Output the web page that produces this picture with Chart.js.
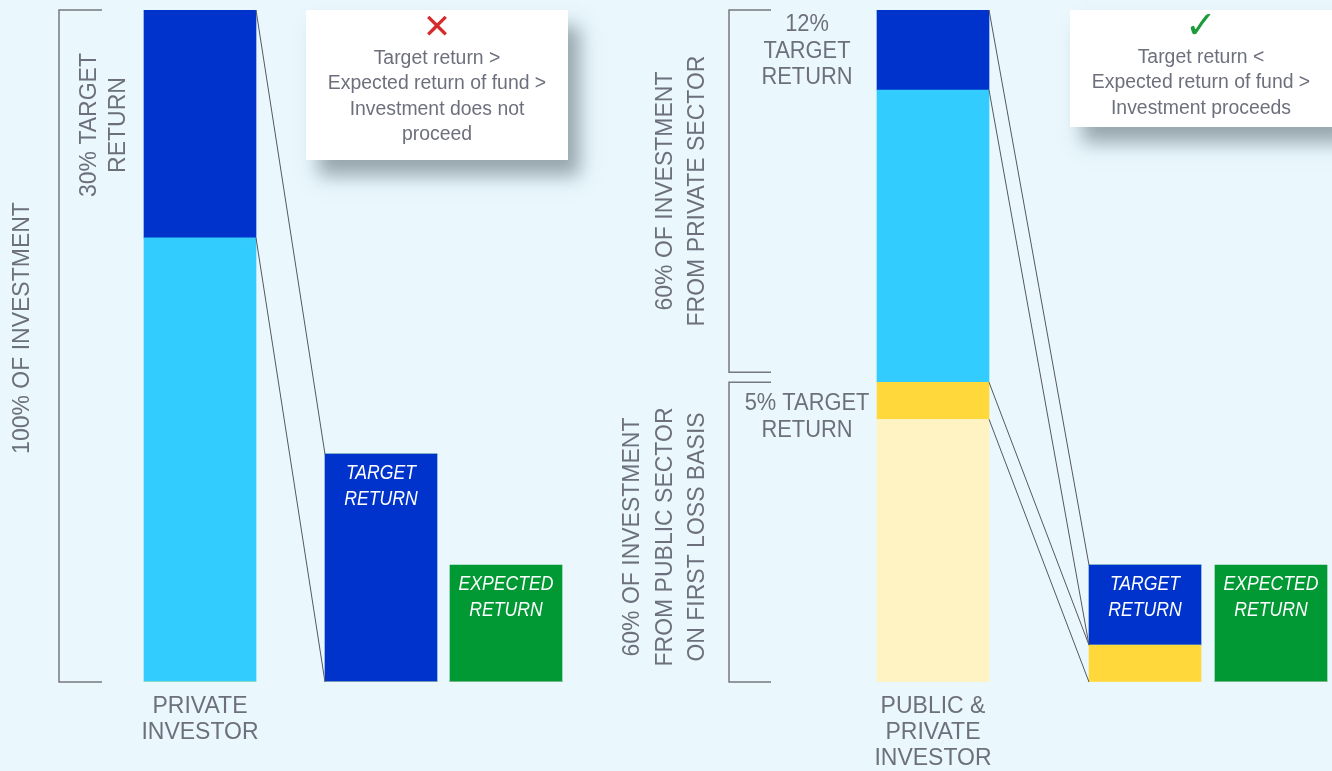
<!DOCTYPE html>
<html>
<head>
<meta charset="utf-8">
<script src="https://cdn.jsdelivr.net/npm/chart.js@4.4.1/dist/chart.umd.min.js"></script>
<style>
  html, body { margin: 0; padding: 0; background: #eaf8fe; }
  #wrap { width: 1332px; height: 771px; position: relative; }
  canvas { display: block; }
</style>
</head>
<body>
<div id="wrap"><canvas id="chart" width="1332" height="771"></canvas></div>
<script>
// ---------------- DATA ----------------
const categories = ["PRIVATE INVESTOR", "TARGET RETURN", "EXPECTED RETURN",
                    "PUBLIC & PRIVATE INVESTOR", "TARGET RETURN", "EXPECTED RETURN"];
// stacked segments (share of the 100% investment bar), bottom to top
const publicCapital       = [0,    0,    0,    39.1, 0,    0];
const publicTargetReturn  = [0,    0,    0,    5.5,  5.5,  0];
const privateCapital      = [66.1, 0,    0,    43.5, 0,    0];
const privateTargetReturn = [33.9, 33.9, 0,    11.9, 11.9, 0];
const expectedReturn      = [0,    0,    17.4, 0,    0,    17.4];
const tickLabels = [["PRIVATE", "INVESTOR"], ["PUBLIC &", "PRIVATE", "INVESTOR"]];
const labelledBars = [0, 3];
const insideLabelBars = [1, 2, 4, 5];

// ---------------- LAYOUT / STYLE ----------------
const barCentres = [200, 381, 506, 933, 1145, 1271];   // x-axis units
const BG = '#eaf8fe';
const GREY = '#6d707c';
const FONT = "'Liberation Sans', Arial, sans-serif";
const COLORS = {
  publicCapital: '#fff3c4',
  publicTargetReturn: '#ffd83b',
  privateCapital: '#33ccff',
  privateTargetReturn: '#0033cc',
  expectedReturn: '#009933'
};

const seriesList = [
  { label: 'Public sector capital', data: publicCapital, color: COLORS.publicCapital },
  { label: 'Public sector target return', data: publicTargetReturn, color: COLORS.publicTargetReturn },
  { label: 'Private sector capital', data: privateCapital, color: COLORS.privateCapital },
  { label: 'Private sector target return', data: privateTargetReturn, color: COLORS.privateTargetReturn },
  { label: 'Expected return', data: expectedReturn, color: COLORS.expectedReturn }
];

const datasets = seriesList.map(s => ({
  label: s.label,
  data: s.data.map((v, i) => ({ x: barCentres[i], y: v })),
  backgroundColor: s.color,
  borderWidth: 0,
  barThickness: 112
}));

// connector lines: [source bar, destination bar], datasets whose segments are linked
const connectorPairs = [[0, 1], [3, 4]];
const connectorSeries = [1, 3];

const decor = {
  id: 'decor',
  beforeDraw(chart) {
    const { ctx, width, height } = chart;
    ctx.save();
    ctx.fillStyle = BG;
    ctx.fillRect(0, 0, width, height);
    ctx.restore();
  },
  afterDatasetsDraw(chart) {
    const ctx = chart.ctx;
    const el = (d, i) => chart.getDatasetMeta(d).data[i];

    // connectors
    ctx.save();
    ctx.strokeStyle = '#55585f';
    ctx.lineWidth = 1;
    connectorPairs.forEach(([src, dst]) => {
      connectorSeries.forEach(d => {
        if (!seriesList[d].data[src] || !seriesList[d].data[dst]) return;
        const a = el(d, src), b = el(d, dst);
        const ax = a.x + a.width / 2, bx = b.x - b.width / 2;
        [[a.y, b.y], [a.base, b.base]].forEach(([ya, yb]) => {
          ctx.beginPath(); ctx.moveTo(ax, ya); ctx.lineTo(bx, yb); ctx.stroke();
        });
      });
    });
    ctx.restore();

    // brackets
    ctx.save();
    ctx.strokeStyle = '#75787f';
    ctx.lineWidth = 1.5;
    const bracket = (x, y1, y2, t) => {
      ctx.beginPath();
      ctx.moveTo(x + t, y1); ctx.lineTo(x, y1); ctx.lineTo(x, y2); ctx.lineTo(x + t, y2);
      ctx.stroke();
    };
    const b0 = el(3, 0), b0base = el(2, 0);
    const left0 = b0.x - b0.width / 2;
    bracket(left0 - 85, b0.y, b0base.base, 43);
    const top3 = el(3, 3), cyan3 = el(2, 3), yel3 = el(1, 3), cream3 = el(0, 3);
    const left3 = top3.x - top3.width / 2;
    bracket(left3 - 148, top3.y, cyan3.base - 10, 42);
    bracket(left3 - 148, yel3.y, cream3.base, 42);
    ctx.restore();

    // text helpers
    const hText = (lines, x, y, lh, font, color, sx) => {
      ctx.save();
      ctx.font = font; ctx.fillStyle = color;
      ctx.textAlign = 'center'; ctx.textBaseline = 'middle';
      lines.forEach((l, k) => {
        ctx.save();
        ctx.translate(x, y + k * lh);
        ctx.scale(sx || 1, 1);
        ctx.fillText(l, 0, 0);
        ctx.restore();
      });
      ctx.restore();
    };
    const vText = (lines, xs, cy, font, color) => {
      ctx.save();
      ctx.font = font; ctx.fillStyle = color;
      ctx.textAlign = 'center'; ctx.textBaseline = 'middle';
      lines.forEach((l, k) => {
        ctx.save();
        ctx.translate(xs[k], cy);
        ctx.rotate(-Math.PI / 2);
        ctx.fillText(l, 0, 0);
        ctx.restore();
      });
      ctx.restore();
    };

    const labFont = '23px ' + FONT;
    vText(['100% OF INVESTMENT'], [23], 328, labFont, GREY);
    vText(['30% TARGET', 'RETURN'], [90, 119], 125, labFont, GREY);
    vText(['60% OF INVESTMENT', 'FROM PRIVATE SECTOR'], [666, 698], 191, labFont, GREY);
    vText(['60% OF INVESTMENT', 'FROM PUBLIC SECTOR', 'ON FIRST LOSS BASIS'], [633, 666, 698], 537, labFont, GREY);
    hText(['12%', 'TARGET', 'RETURN'], 807, 25, 26.5, labFont, GREY, 0.95);
    hText(['5% TARGET', 'RETURN'], 807, 404, 26.5, labFont, GREY, 0.95);

    // labels inside return bars
    insideLabelBars.forEach(i => {
      let top = Infinity, x = 0;
      seriesList.forEach((s, d) => {
        if (s.data[i]) { const e = el(d, i); if (e.y < top) { top = e.y; x = e.x; } }
      });
      hText(categories[i].split(' '), x, top + 19, 26, 'italic 21px ' + FONT, '#ffffff', 0.84);
    });

    // info boxes
    const box = (x, y, w, h, icon, iconColor, iconFont, iconY, lines, cx, ly) => {
      ctx.save();
      ctx.shadowColor = 'rgba(70, 85, 95, 0.5)';
      ctx.shadowBlur = 18;
      ctx.shadowOffsetX = 12;
      ctx.shadowOffsetY = 16;
      ctx.fillStyle = '#ffffff';
      ctx.fillRect(x, y, w, h);
      ctx.restore();
      hText([icon], cx, iconY, 0, iconFont, iconColor);
      hText(lines, cx, ly, 25.5, '20px ' + FONT, GREY, 0.97);
    };
    box(306, 10, 262, 150, '\u2715', '#d42b2b', '34px "DejaVu Sans"', 29,
        ['Target return >', 'Expected return of fund >', 'Investment does not', 'proceed'], 437, 58);
    box(1070, 10, 270, 117, '\u2713', '#1d9a3a', '38px "DejaVu Sans"', 28,
        ['Target return <', 'Expected return of fund >', 'Investment proceeds'], 1201, 57);
  }
};

new Chart(document.getElementById('chart'), {
  type: 'bar',
  data: { datasets },
  options: {
    responsive: false,
    animation: false,
    devicePixelRatio: 1,
    layout: { padding: { top: 10, left: 0, right: 0, bottom: 0 } },
    plugins: { legend: { display: false }, tooltip: { enabled: false }, title: { display: false } },
    scales: {
      x: {
        type: 'linear', min: 0, max: 1332, offset: false, stacked: true,
        grid: { display: false, drawTicks: false }, border: { display: false },
        afterBuildTicks: s => { s.ticks = labelledBars.map(i => ({ value: barCentres[i] })); },
        afterFit: s => { s.height = 89; },
        ticks: {
          autoSkip: false, maxRotation: 0, minRotation: 0, padding: 12,
          color: GREY, font: { family: FONT, size: 23, lineHeight: '26px' },
          callback: (v, i) => tickLabels[i]
        }
      },
      y: { display: false, min: 0, max: 100, stacked: true }
    }
  },
  plugins: [decor]
});
</script>
</body>
</html>
